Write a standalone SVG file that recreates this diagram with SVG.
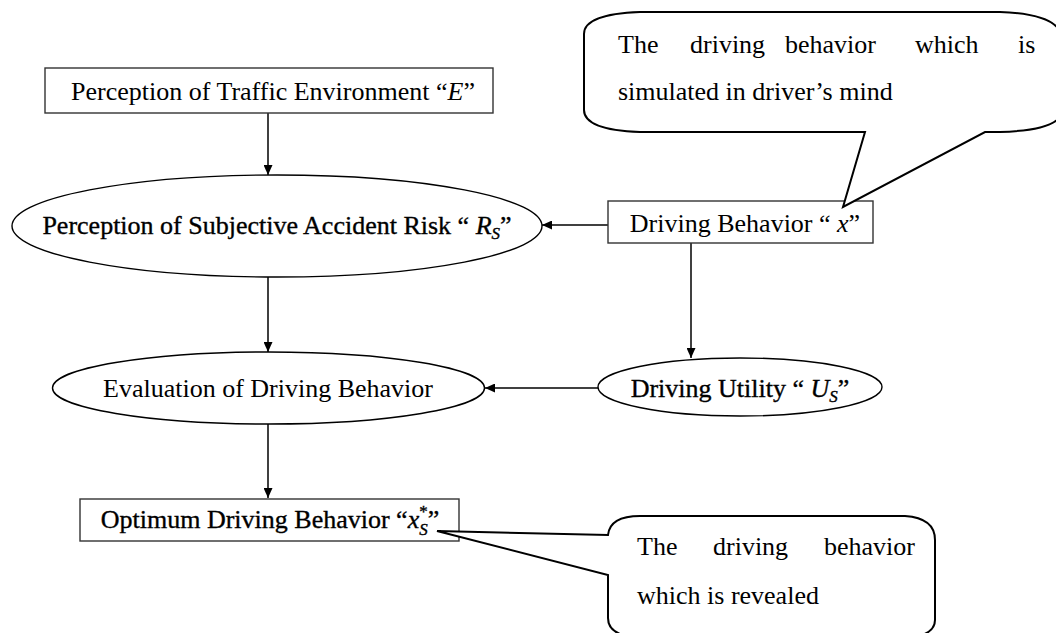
<svg xmlns="http://www.w3.org/2000/svg" width="1056" height="633" viewBox="0 0 1056 633">
<style>
text{font-family:"Liberation Serif","Times New Roman",serif;font-size:26px;fill:#000}
.heavy{stroke:#000;stroke-width:0.35}
.box{fill:#fff;stroke:#333;stroke-width:1.4}
.ell{fill:#fff;stroke:#000;stroke-width:1.4}
.callout{fill:#fff;stroke:#000;stroke-width:2}
.conn{stroke:#000;stroke-width:1.5;fill:none;marker-end:url(#arr)}
.it{font-style:italic}
.sm{font-size:17px}
</style>
<defs>
<marker id="arr" markerUnits="userSpaceOnUse" markerWidth="10" markerHeight="9" refX="10" refY="4.5" orient="auto">
<path d="M0,0 L10,4.5 L0,9 Z" fill="#000"/>
</marker>
</defs>
<rect width="1056" height="633" fill="#fff"/>

<g id="connectors">
<line class="conn" x1="268" y1="113" x2="268" y2="175"/>
<line class="conn" x1="608" y1="225" x2="542" y2="225"/>
<line class="conn" x1="268" y1="277" x2="268" y2="352"/>
<line class="conn" x1="691" y1="243" x2="691" y2="358"/>
<line class="conn" x1="598" y1="388" x2="485" y2="388"/>
<line class="conn" x1="268" y1="424" x2="268" y2="498"/>
</g>

<g id="node-environment">
<rect class="box" x="45" y="68" width="448" height="45"/>
<text x="273" y="100" text-anchor="middle">Perception of Traffic Environment “<tspan class="it">E</tspan>”</text>
</g>

<g id="node-risk">
<ellipse class="ell" cx="277" cy="226" rx="265" ry="51"/>
<text class="heavy" x="277" y="234" text-anchor="middle">Perception of Subjective Accident Risk “ <tspan class="it">R</tspan><tspan class="it sm" dy="5">S</tspan><tspan dy="-5">”</tspan></text>
</g>

<g id="node-behavior">
<rect class="box" x="608" y="201" width="265" height="42"/>
<text x="745" y="232" text-anchor="middle">Driving Behavior “ <tspan class="it">x</tspan>”</text>
</g>

<g id="node-evaluation">
<ellipse class="ell" cx="268.5" cy="388" rx="216" ry="36"/>
<text x="268" y="397" text-anchor="middle">Evaluation of Driving Behavior</text>
</g>

<g id="node-utility">
<ellipse class="ell" cx="740" cy="387" rx="142" ry="29"/>
<text class="heavy" x="740" y="397" text-anchor="middle">Driving Utility “ <tspan class="it">U</tspan><tspan class="it sm" dy="5">S</tspan><tspan dy="-5">”</tspan></text>
</g>

<g id="node-optimum">
<rect class="box" x="80" y="499" width="379" height="42"/>
<text class="heavy" x="270" y="528" text-anchor="middle">Optimum Driving Behavior “<tspan class="it">x</tspan><tspan class="sm" dy="-11">*</tspan><tspan class="it sm" dx="-8.5" dy="18">S</tspan><tspan dy="-7">”</tspan></text>
</g>

<g id="callout-simulated">
<path class="callout" d="M640,12 L1000,12 Q1062,14 1062,40 L1062,110 Q1062,130 1000,132 L985,132 L843,207 L865,132 L640,132 Q584,130 584,110 L584,34 Q584,14 640,12 Z"/>
<text y="53"><tspan x="618">The</tspan><tspan x="690">driving</tspan><tspan x="785">behavior</tspan><tspan x="915">which</tspan><tspan x="1018">is</tspan></text>
<text x="618" y="100">simulated in driver’s mind</text>
</g>

<g id="callout-revealed">
<path class="callout" d="M437,531 L608,535 Q610,516 640,516 L905,516 Q935,518 935,540 L935,620 Q935,636 905,638 L640,638 Q608,636 608,618 L608,575 Z"/>
<text y="555"><tspan x="637">The</tspan><tspan x="713">driving</tspan><tspan x="824">behavior</tspan></text>
<text x="637" y="604">which is revealed</text>
</g>
</svg>
